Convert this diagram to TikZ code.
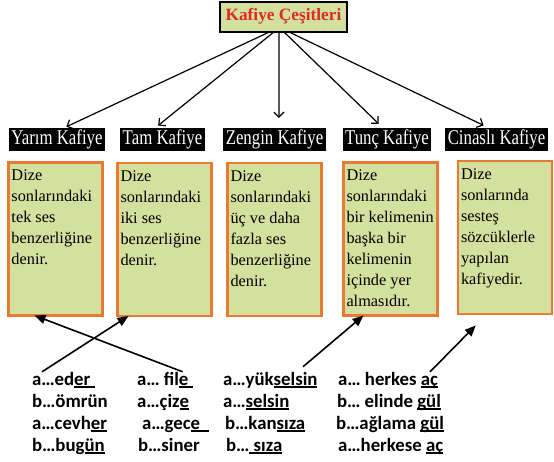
\documentclass[tikz,border=0pt]{standalone}
\usepackage{fontspec}
\setmainfont{Liberation Serif}
\newfontfamily\headfont[FakeStretch=0.8]{Liberation Serif}
\newfontfamily\wordfont{Carlito}
\usetikzlibrary{arrows.meta}
\definecolor{boxgreen}{RGB}{212,224,158}
\definecolor{boxorange}{RGB}{232,122,52}
\definecolor{titlered}{RGB}{222,44,34}
\newcommand{\undr}[1]{\setbox0\hbox{#1}\rlap{\rule[-2.6pt]{\wd0}{1.3pt}}\box0}
\newcommand{\desc}[1]{\begin{minipage}[t][147pt][t]{88pt}\raggedright\rule{0pt}{15pt}#1\end{minipage}}

\begin{document}
\begin{tikzpicture}[x=1pt,y=-1pt,inner sep=0pt,outer sep=0pt,
>={Straight Barb[length=5pt,width=10pt]},
titlebox/.style={draw,line width=2pt,fill=boxgreen,minimum width=127pt,minimum height=30pt,text=titlered,font=\fontsize{17.3}{20}\selectfont\bfseries},
headbox/.style={fill=black,text=white,inner xsep=2.5pt,minimum height=23pt,font=\fontsize{21}{22}\headfont},
descbox/.style={draw=boxorange,line width=2.5pt,fill=boxgreen,inner sep=3pt,font=\fontsize{16.3}{21}\selectfont},
wordline/.style={anchor=base west,font=\fontsize{18.8}{20}\wordfont\bfseries},
branch/.style={->,line width=1.2pt},
pointer/.style={-{Triangle[length=11pt,width=9pt]},line width=1.6pt}]
\useasboundingbox (0,0) rectangle (554,461);
\draw (283.5,16.5) node[titlebox] (title) {Kafiye Çeşitleri};
\draw (57,139.5) node[headbox] (yarim) {Yarım Kafiye};
\draw (162.5,139.5) node[headbox] (tam) {Tam Kafiye};
\draw (274.5,139.5) node[headbox] (zengin) {Zengin Kafiye};
\draw (387,139.5) node[headbox] (tunc) {Tunç Kafiye};
\draw (496.5,139.5) node[headbox] (cinasli) {Cinaslı Kafiye};
\draw[branch,shorten >=3pt] ([xshift=-13pt]title.south) -- (yarim.60);
\draw[branch,shorten >=4pt] ([xshift=-9pt]title.south) -- (tam.123);
\draw[branch,shorten >=10pt] ([xshift=-4.5pt]title.south) -- (zengin.69);
\draw[branch,shorten >=6pt] (title.south) -- (tunc.109);
\draw[branch,shorten >=6pt] ([xshift=4.5pt]title.south) -- (cinasli.123);
\draw (55.5,239) node[descbox] (yarimdef) {\desc{Dize\\ sonlarındaki\\ tek~ses\\ benzerliğine\\ denir.}};
\draw (164.5,239.5) node[descbox] (tamdef) {\desc{Dize\\ sonlarındaki\\ iki~ses\\ benzerliğine\\ denir.}};
\draw (274.5,239.5) node[descbox] (zengindef) {\desc{Dize\\ sonlarındaki\\ üç~ve~daha\\ fazla~ses\\ benzerliğine\\ denir.}};
\draw (390.5,239) node[descbox] (tuncdef) {\desc{Dize\\ sonlarındaki\\ bir~kelimenin\\ başka~bir\\ kelimenin\\ içinde~yer\\ almasıdır.}};
\draw (505,237.5) node[descbox] (cinaslidef) {\desc{Dize\\ sonlarında\\ sesteş\\ sözcüklerle\\ yapılan\\ kafiyedir.}};
\draw (32,385) node[wordline] (w11) {a…ed\undr{er\ }};
\draw (32,407) node[wordline] (w12) {b…ömrün};
\draw (32,429) node[wordline] (w13) {a…cevh\undr{er}};
\draw (32,451) node[wordline] (w14) {b…bug\undr{ün}};
\draw (137,385) node[wordline] (w21) {a… fil\undr{e\ }};
\draw (137,407) node[wordline] (w22) {a…çiz\undr{e}};
\draw (142,429) node[wordline] (w23) {a…gec\undr{e\ \ }};
\draw (138,451) node[wordline] (w24) {b…siner};
\draw (223,385) node[wordline] (w31) {a…yük\undr{selsin}};
\draw (223,407) node[wordline] (w32) {a…\undr{selsin}};
\draw (225,429) node[wordline] (w33) {b…kan\undr{sıza}};
\draw (226,451) node[wordline] (w34) {b…\undr{\ sıza}};
\draw (338,385) node[wordline] (w41) {a… herkes \undr{aç}};
\draw (337,407) node[wordline] (w42) {b… elinde \undr{gül}};
\draw (336,429) node[wordline] (w43) {b…ağlama \undr{gül}};
\draw (338,451) node[wordline] (w44) {a…herkese \undr{aç}};
\draw[pointer] ([xshift=10pt]w11.north west) -- ([xshift=11pt]tamdef.south west);
\draw[pointer] ([xshift=-10pt]w21.north east) -- ([xshift=26pt]yarimdef.south west);
\draw[pointer,shorten <=8pt] ([xshift=74pt]w31.north west) -- ([xshift=20pt]tuncdef.south west);
\draw[pointer,shorten >=16pt] ([xshift=-8pt]w41.north east) -- ([xshift=29pt]cinaslidef.south west);
\end{tikzpicture}
\end{document}
